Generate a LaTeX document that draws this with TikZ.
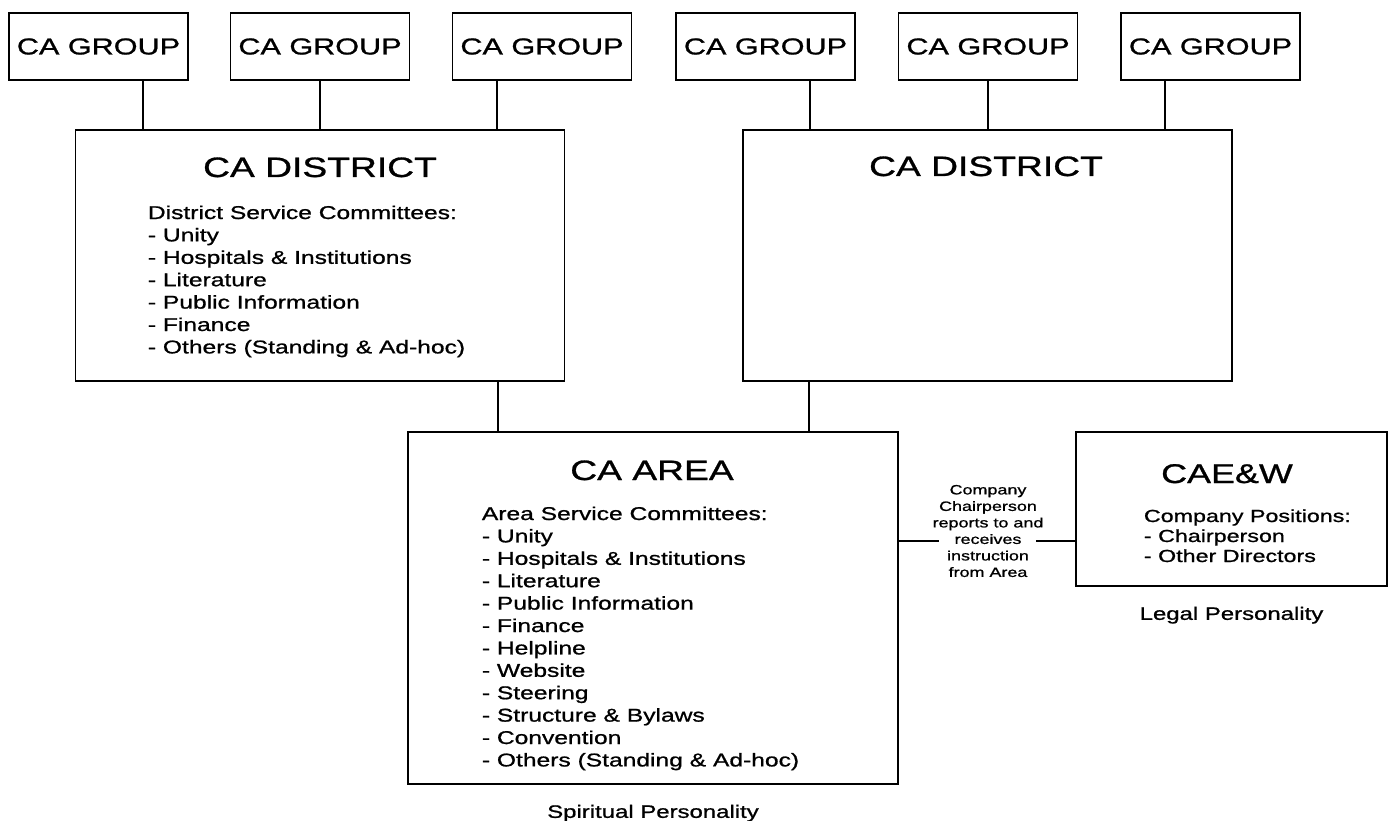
\documentclass[tikz,border=0pt]{standalone}
\usepackage{fontspec}
\setmainfont{Liberation Sans}[FakeStretch=1.33, FakeBold=1]
\usetikzlibrary{positioning}

\begin{document}
\begin{tikzpicture}[x=1pt, y=-1pt, line width=1.8pt,
  box/.style={draw, rectangle, inner sep=0pt},
  group/.style={box, minimum width=179pt, minimum height=67pt, font=\fontsize{23}{27}\selectfont},
  unit/.style={box, minimum width=489pt},
  title/.style={anchor=base, inner sep=0pt, font=\fontsize{28}{32}\selectfont},
  list/.style={anchor=base west, align=left, inner sep=0pt, font=\fontsize{18.5}{22.4}\selectfont},
  note/.style={inner sep=0pt, font=\fontsize{18}{21}\selectfont}]
\useasboundingbox (0,0) rectangle (1392,821);

\foreach \n/\x in {1/98.5, 2/320, 3/542, 4/765.5, 5/988, 6/1210.5}
  \node[group] (g\n) at (\x,46.5) {CA GROUP};

\node[unit, minimum height=251pt] (d1) at (320,255.5) {};
\node[unit, minimum height=251pt] (d2) at (987.5,255.5) {};
\node[unit, minimum width=490pt, minimum height=352pt] (area) at (653,608) {};
\node[box, minimum width=311pt, minimum height=154pt] (cae) at (1231.5,509) {};

\node[title] (d1t) at (320,177) {CA DISTRICT};
\node[list] (d1l) at (147,353.4) {District Service Committees:\\- Unity\\- Hospitals \& Institutions\\- Literature\\- Public Information\\- Finance\\- Others (Standing \& Ad-hoc)};
\node[title] (d2t) at (986,176) {CA DISTRICT};
\node[title] (areat) at (652,480) {CA AREA};
\node[list] (areal) at (481,766.4) {Area Service Committees:\\- Unity\\- Hospitals \& Institutions\\- Literature\\- Public Information\\- Finance\\- Helpline\\- Website\\- Steering\\- Structure \& Bylaws\\- Convention\\- Others (Standing \& Ad-hoc)};
\node[title, font=\fontsize{27}{31}\selectfont] (caet) at (1227,483) {CAE\&W};
\node[list, font=\fontsize{17.5}{20}\selectfont] (cael) at (1143,562) {Company Positions:\\- Chairperson\\- Other Directors};

\foreach \n/\dx/\d in {1/44.5/d1, 2/0/d1, 3/-45/d1, 4/44.5/d2, 5/0/d2, 6/-45.5/d2}
  \draw ([xshift=\dx pt]g\n.south) -- ([xshift=\dx pt]g\n.south |- \d.north);
\draw ([xshift=178pt]d1.south) -- ([xshift=178pt]d1.south |- area.north);
\draw ([xshift=-178.5pt]d2.south) -- ([xshift=-178.5pt]d2.south |- area.north);

\node[align=center, inner sep=0pt, font=\fontsize{13.5}{16.5}\selectfont] (link) at (988,531) {Company\\Chairperson\\reports to and\\receives\\instruction\\from Area};
\coordinate (mid) at (988,541);
\draw (area.east |- mid) -- ([xshift=-49pt]mid);
\draw ([xshift=48pt]mid) -- (cae.west |- mid);

\node[note, below=19pt of cae] (legal) {Legal Personality};
\node[note, below=19pt of area] (spirit) {Spiritual Personality};
\end{tikzpicture}
\end{document}
